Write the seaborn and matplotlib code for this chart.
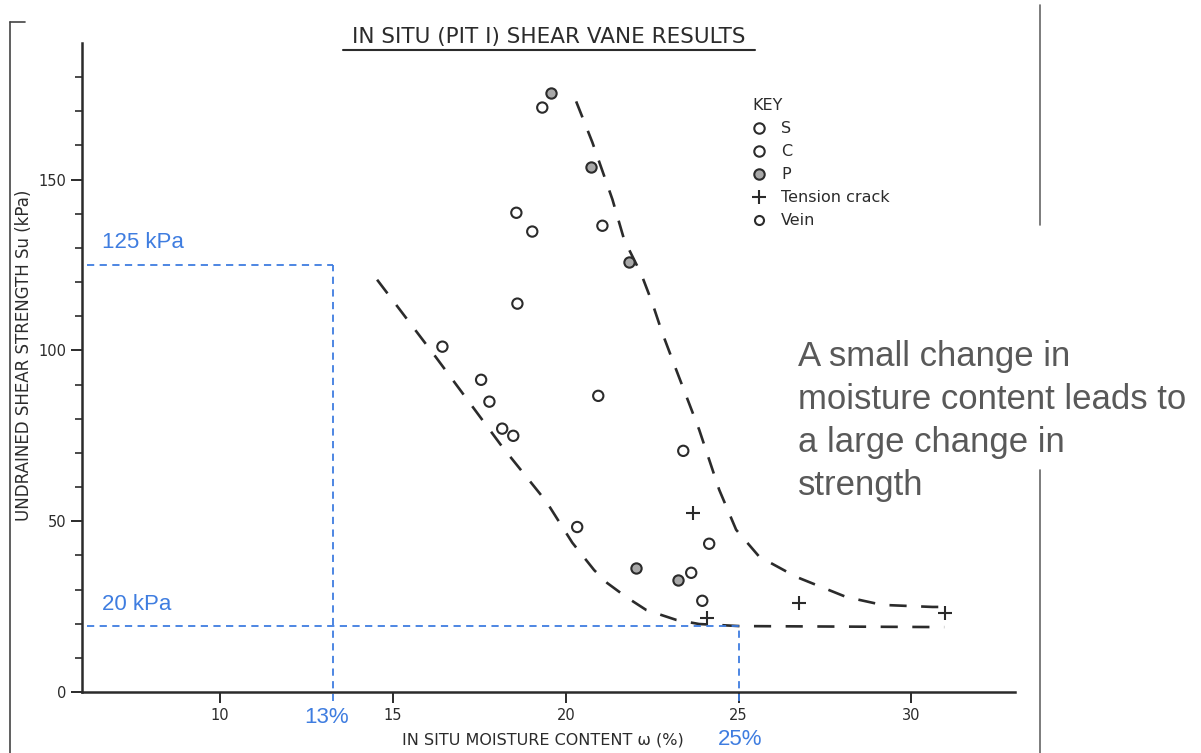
import seaborn as sns
import matplotlib.pyplot as plt
from matplotlib.lines import Line2D
import pandas as pd

# measured points: moisture content (%) and undrained shear strength (kPa)
vane_w = [19.58, 19.32, 20.74, 18.57, 19.03, 21.06, 21.84, 18.60, 16.43, 17.55,
          17.79, 20.94, 18.16, 18.48, 23.40, 20.33, 24.15, 22.04, 23.26, 23.63, 23.95]
vane_su = [175.5, 171.1, 153.8, 140.3, 134.8, 136.5, 126.0, 113.7, 101.1, 91.4,
           85.0, 86.7, 77.1, 75.0, 70.6, 48.3, 43.4, 36.3, 32.8, 34.9, 26.7]
vane_kind = ["P", "S", "P", "S", "S", "S", "P", "S", "S", "S",
             "S", "S", "S", "S", "S", "S", "S", "P", "P", "S", "S"]

crack_w = [23.69, 24.10, 26.76, 30.96]
crack_su = [52.4, 21.7, 26.1, 23.1]

# hand drawn envelope curves
lower_w = [14.54, 16.25, 18.16, 19.44, 20.19, 20.82, 21.20, 21.75, 22.33, 23.20, 23.86, 25.02, 30.95]
lower_su = [120.7, 97.9, 71.8, 55.7, 43.7, 35.7, 31.9, 27.8, 24.0, 21.1, 19.9, 19.3, 19.0]
upper_w = [20.30, 20.77, 21.35, 21.69, 22.19, 22.50, 22.79, 23.14, 23.86, 24.44, 24.93,
           25.60, 26.67, 28.12, 29.16, 30.61, 30.95]
upper_su = [172.9, 160.9, 144.2, 132.4, 122.2, 114.0, 105.2, 95.8, 76.8, 59.2, 47.5,
            39.6, 33.7, 27.8, 25.5, 24.9, 24.9]

# blue guides
guide_su = [125, 19.3]
guide_w = [13.27, 25.0]
guide_su_labels = ["125 kPa", "20 kPa"]
guide_w_labels = ["13%", "25%"]

key_labels = ["S", "C", "P", "Tension crack", "Vein"]

ink = "#2b2b2b"
blue = "#3f7de0"
fill_p = "#a8a8a8"

sns.set_style("ticks")
plt.rcParams["font.family"] = ["DejaVu Sans"]

fig = plt.figure(figsize=(12.01, 7.53), dpi=100)
ax = fig.add_axes([82 / 1201, 1 - 692 / 753, 933 / 1201, 649 / 753])

vane = pd.DataFrame({"w": vane_w, "su": vane_su, "kind": vane_kind})
for kind, face in [("S", "none"), ("P", fill_p)]:
    sub = vane[vane["kind"] == kind]
    sns.scatterplot(x="w", y="su", data=sub, ax=ax, marker="o", s=55,
                    facecolor=face, edgecolor=ink, linewidth=1.5, zorder=3)
sns.scatterplot(x=crack_w, y=crack_su, ax=ax, marker="+", s=100,
                color=ink, linewidth=1.5, zorder=3)

sns.lineplot(x=lower_w, y=lower_su, ax=ax, sort=False, color=ink, lw=1.9,
             linestyle=(0, (6.5, 5.5)))
sns.lineplot(x=upper_w, y=upper_su, ax=ax, sort=False, color=ink, lw=1.9,
             linestyle=(0, (6.5, 5.5)))

# guide lines
for su, w in zip(guide_su, guide_w):
    ax.plot([6.15, w], [su, su], color=blue, lw=1.3, linestyle=(0, (4, 3)), clip_on=False)
    ax.plot([w, w], [-2.5, su], color=blue, lw=1.3, linestyle=(0, (4, 3)), clip_on=False)
ax.text(6.58, 131.5, guide_su_labels[0], color=blue, fontsize=16, va="center",
        family="Liberation Sans")
ax.text(6.58, 25.5, guide_su_labels[1], color=blue, fontsize=16, va="center",
        family="Liberation Sans")
ax.text(13.07, -7.5, guide_w_labels[0], color=blue, fontsize=16, ha="center",
        va="center", family="Liberation Sans", clip_on=False)
ax.text(25.05, -13.8, guide_w_labels[1], color=blue, fontsize=16, ha="center",
        va="center", family="Liberation Sans", clip_on=False)

ax.set_xlim(6, 33)
ax.set_ylim(0, 190)
ax.set_xticks([10, 15, 20, 25, 30])
ax.set_yticks([0, 50, 100, 150])
ax.set_yticks(range(10, 190, 10), minor=True)
ax.tick_params(axis="both", colors=ink, labelsize=10.5, width=1.4, length=8)
ax.tick_params(axis="y", which="minor", length=5, width=1.2, color=ink)
for side in ["top", "right"]:
    ax.spines[side].set_visible(False)
for side in ["left", "bottom"]:
    ax.spines[side].set_linewidth(1.8)
    ax.spines[side].set_color(ink)

ax.set_xlabel("IN SITU MOISTURE CONTENT \u03c9 (%)", fontsize=11.5, color=ink)
ax.set_ylabel("UNDRAINED SHEAR STRENGTH Su (kPa)", fontsize=12, color=ink)
ax.xaxis.set_label_coords(0.494, -0.062)
ax.yaxis.set_label_coords(-0.0525, 0.519)

handles = [
    Line2D([], [], ls="none", marker="o", ms=7.5, mfc="none", mec=ink, mew=1.5),
    Line2D([], [], ls="none", marker="o", ms=7.5, mfc="none", mec=ink, mew=1.5),
    Line2D([], [], ls="none", marker="o", ms=7.5, mfc=fill_p, mec=ink, mew=1.5),
    Line2D([], [], ls="none", marker="+", ms=10, mec=ink, mew=1.5),
    Line2D([], [], ls="none", marker="o", ms=6.5, mfc="none", mec=ink, mew=1.5),
]
leg = ax.legend(handles, key_labels, title="KEY", loc="upper left",
                bbox_to_anchor=(0.703, 0.937), frameon=False, fontsize=11.5,
                title_fontsize=11.5, handlelength=0.9, handletextpad=0.9,
                labelspacing=0.5, alignment="left")
for t in leg.get_texts():
    t.set_color(ink)
leg.get_title().set_color(ink)

# title with underline
fig.text(549 / 1201, 1 - 37 / 753, "IN SITU (PIT I) SHEAR VANE RESULTS",
         ha="center", va="center", fontsize=15.5, color=ink)
fig.add_artist(Line2D([343 / 1201, 755 / 1201], [1 - 50 / 753] * 2, color=ink, lw=1.5))

# annotation
fig.text(798 / 1201, 1 - 340 / 753,
         "A small change in\nmoisture content leads to\na large change in\nstrength",
         ha="left", va="top", fontsize=25, color="#595959", linespacing=1.38,
         family="Liberation Sans")

# scanned page borders
fig.add_artist(Line2D([10 / 1201] * 2, [0, 1 - 22 / 753], color="#444", lw=1.2))
fig.add_artist(Line2D([10 / 1201, 25 / 1201], [1 - 22 / 753] * 2, color="#444", lw=1.2))
fig.add_artist(Line2D([1040 / 1201] * 2, [1 - 5 / 753, 1 - 225 / 753], color="#666", lw=1.2))
fig.add_artist(Line2D([1040 / 1201] * 2, [1 - 470 / 753, 0], color="#666", lw=1.2))

fig.savefig("out.png", dpi=100)
